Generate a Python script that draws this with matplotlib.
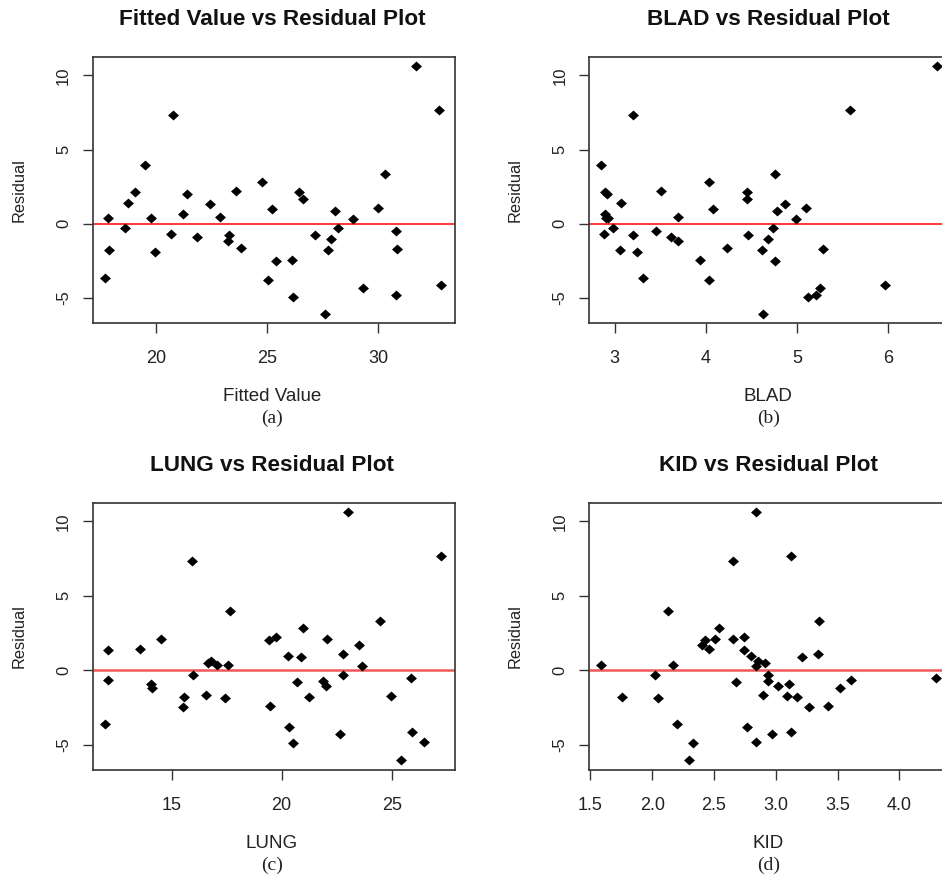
import matplotlib
matplotlib.use("Agg")
import matplotlib.pyplot as plt

plt.rcParams["font.family"] = ["Liberation Sans", "DejaVu Sans"]

# Regression residuals and the predictors they are plotted against
fitted = [17.71, 17.83, 17.90, 18.62, 18.73, 19.06, 19.51, 19.79, 19.97, 20.69,
          20.75, 21.20, 21.41, 21.86, 22.44, 22.87, 23.22, 23.29, 23.61, 23.80,
          24.76, 25.03, 25.22, 25.40, 26.12, 26.18, 26.44, 26.59, 27.16, 27.62,
          27.75, 27.87, 28.07, 28.20, 28.86, 29.33, 30.00, 30.28, 30.78, 30.78,
          30.84, 31.68, 32.74, 32.81]
residual = [-3.62, 0.38, -1.79, -0.31, 1.43, 2.12, 3.95, 0.38, -1.88, -0.67,
            7.32, 0.65, 2.03, -0.92, 1.34, 0.47, -1.18, -0.74, 2.21, -1.63,
            2.81, -3.79, 0.98, -2.50, -2.41, -4.91, 2.12, 1.70, -0.76, -6.05,
            -1.79, -1.03, 0.89, -0.31, 0.29, -4.31, 1.07, 3.33, -0.49, -4.82,
            -1.70, 10.63, 7.68, -4.13]
blad = [3.31, 2.91, 3.06, 2.98, 3.07, 2.90, 2.85, 2.93, 3.25, 2.88,
        3.20, 2.90, 2.92, 3.62, 4.87, 3.70, 3.70, 3.20, 3.51, 4.23,
        4.03, 4.04, 4.08, 4.76, 3.94, 5.12, 4.45, 4.45, 4.46, 4.63,
        4.62, 4.68, 4.78, 4.74, 4.99, 5.25, 5.10, 4.76, 3.45, 5.21,
        5.28, 6.53, 5.58, 5.96]
lung = [11.97, 17.05, 15.58, 15.95, 13.56, 14.53, 17.67, 17.56, 17.42, 12.09,
        15.91, 16.79, 19.41, 14.05, 12.09, 16.65, 14.12, 21.86, 19.76, 16.55,
        20.95, 20.32, 20.30, 15.50, 19.47, 20.50, 22.08, 23.50, 20.68, 25.42,
        21.23, 22.02, 20.88, 22.77, 23.64, 22.65, 22.77, 24.47, 25.88, 26.47,
        24.97, 23.00, 27.24, 25.92]
kid = [2.20, 1.59, 1.76, 2.02, 2.46, 2.51, 2.13, 2.17, 2.05, 3.61,
       2.65, 2.86, 2.43, 3.11, 2.74, 2.91, 3.52, 2.94, 2.74, 2.90,
       2.54, 2.77, 2.80, 3.27, 3.42, 2.33, 2.65, 2.40, 2.68, 2.30,
       3.17, 3.02, 3.21, 2.94, 2.84, 2.97, 3.34, 3.35, 4.30, 2.84,
       3.09, 2.84, 3.12, 3.12]

titles = ["Fitted Value vs Residual Plot", "BLAD vs Residual Plot",
          "LUNG vs Residual Plot", "KID vs Residual Plot"]
xlabels = ["Fitted Value", "BLAD", "LUNG", "KID"]
sublabels = ["(a)", "(b)", "(c)", "(d)"]
xtick_values = [[20, 25, 30], [3, 4, 5, 6], [15, 20, 25],
                [1.5, 2.0, 2.5, 3.0, 3.5, 4.0]]
ytick_values = [-5, 0, 5, 10]

W, H = 942, 881
fig = plt.figure(figsize=(W / 100, H / 100), dpi=100)
fig.patch.set_facecolor("white")

# panel boxes in pixels: left, top, width, height
boxes = [(92.7, 56.7, 362.3, 266.6), (589.0, 56.7, 362.3, 266.6),
         (92.7, 502.7, 362.3, 267.3), (589.0, 502.7, 362.3, 267.3)]
xlims = [(17.15, 33.45), (2.72, 6.69), (11.41, 27.88), (1.489, 4.42)]
ylim = (-6.7, 11.25)
xs = [fitted, blad, lung, kid]
line_styles = [("red", 1.1), ("red", 1.1), ("#f05858", 1.8), ("#f05858", 1.8)]
tick_fmt = [str, str, str, lambda v: f"{v:.1f}"]

diamond = [(-1.1, 0), (0, 1), (1.1, 0), (0, -1), (-1.1, 0)]

for i in range(4):
    l, t, w, h = boxes[i]
    ax = fig.add_axes([l / W, 1 - (t + h) / H, w / W, h / H])
    ax.scatter(xs[i], residual, marker=diamond, s=62, color="black",
               linewidths=0, zorder=3)
    ax.axhline(0, color=line_styles[i][0], lw=line_styles[i][1], zorder=2)
    ax.set_xlim(*xlims[i])
    ax.set_ylim(*ylim)
    ax.set_xticks(xtick_values[i])
    ax.set_xticklabels([tick_fmt[i](v) for v in xtick_values[i]])
    ax.set_yticks(ytick_values)
    ax.set_yticklabels([str(v) for v in ytick_values], rotation=90, va="center")
    for sp in ax.spines.values():
        sp.set_color("#333333")
        sp.set_linewidth(1.2)
    ax.tick_params(axis="both", direction="out", length=7.5, width=1.0,
                   color="#333333", labelcolor="#222222")
    ax.tick_params(axis="x", labelsize=13, pad=12)
    ax.tick_params(axis="y", labelsize=12, pad=8)

    cx = l + w / 2 - 2
    fig.text(cx / W, 1 - (t - 37) / H, titles[i], ha="center", va="center",
             fontsize=16.2, fontweight="bold", color="#111111")
    fig.text(cx / W, 1 - (t + h + 73) / H, xlabels[i], ha="center",
             va="center", fontsize=13.5, color="#222222")
    fig.text(cx / W, 1 - (t + h + 95) / H, sublabels[i], ha="center",
             va="center", fontsize=14, color="#222222",
             family=["Liberation Serif", "DejaVu Serif"])
    fig.text((l - 74) / W, 1 - (t + h / 2) / H, "Residual", rotation=90,
             ha="center", va="center", fontsize=11.8, color="#222222")

fig.savefig("out.png", dpi=100)
